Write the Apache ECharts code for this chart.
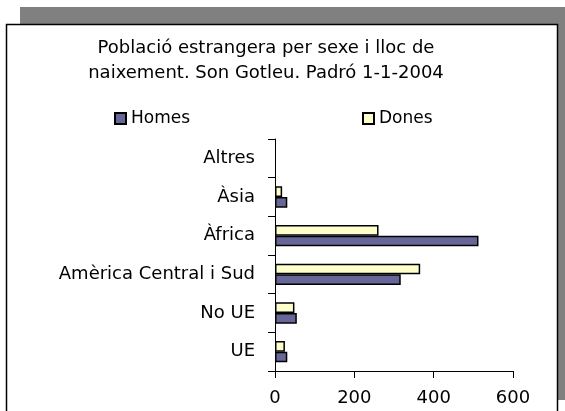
<!DOCTYPE html>
<html>
<head>
<meta charset="utf-8">
<script src="https://cdn.jsdelivr.net/npm/echarts@6/dist/echarts.min.js"></script>
<style>
html, body { margin: 0; padding: 0; background: #fff; }
#chart { width: 565px; height: 411px; }
</style>
</head>
<body>
<div id="chart"></div>
<script>
// categories from bottom to top, like the original
var categories = ['UE', 'No UE', 'Amèrica Central i Sud', 'Àfrica', 'Àsia', 'Altres'];
var homes = [31, 55, 317, 513, 31, 0];
var dones = [25, 49, 366, 261, 18, 0];
var xTicks = [0, 200, 400, 600];

var myChart = echarts.init(document.getElementById('chart'));
var font = 'DejaVu Sans';

// empty bars are not drawn at all (no border on the axis)
function noZero(arr) {
    return arr.map(function (v) { return v === 0 ? '-' : v; });
}

option = {
    animation: false,
    graphic: [
        // shadow
        { type: 'rect', shape: { x: 20, y: 7, width: 560, height: 393 }, style: { fill: '#808080' }, z: -10 },
        // chart area
        { type: 'rect', shape: { x: 6.5, y: 24.5, width: 551, height: 400 }, style: { fill: '#fff', stroke: '#000', lineWidth: 1.5 }, z: -9 }
    ],
    title: {
        text: 'Població estrangera per sexe i lloc de\nnaixement. Son Gotleu. Padró 1-1-2004',
        left: 261,
        textAlign: 'center',
        top: 31,
        textStyle: {
            color: '#000',
            fontFamily: font,
            fontWeight: 'normal',
            fontSize: 18,
            lineHeight: 25
        }
    },
    legend: [{
        data: ['Homes'],
        left: 109,
        top: 105,
        icon: 'rect',
        itemWidth: 11,
        itemHeight: 11,
        itemGap: 5,
        textStyle: { color: '#000', fontFamily: font, fontSize: 17 }
    }, {
        data: ['Dones'],
        left: 357,
        top: 105,
        icon: 'rect',
        itemWidth: 11,
        itemHeight: 11,
        itemGap: 5,
        textStyle: { color: '#000', fontFamily: font, fontSize: 17 }
    }],
    grid: {
        left: 275,
        right: 52,
        top: 139,
        bottom: 40
    },
    xAxis: {
        type: 'value',
        min: xTicks[0],
        max: xTicks[xTicks.length - 1],
        interval: xTicks[1] - xTicks[0],
        splitLine: { show: false },
        axisLine: { show: true, lineStyle: { color: '#000', width: 1 } },
        axisTick: { show: true, length: 7, lineStyle: { color: '#000' } },
        axisLabel: { color: '#000', fontFamily: font, fontSize: 18, margin: 18 }
    },
    yAxis: {
        type: 'category',
        data: categories,
        axisLine: { show: true, lineStyle: { color: '#000', width: 1 } },
        axisTick: { show: true, length: 7, lineStyle: { color: '#000' } },
        axisLabel: { color: '#000', fontFamily: font, fontSize: 18, margin: 20 }
    },
    series: [
        {
            name: 'Dones',
            type: 'bar',
            data: noZero(dones),
            barGap: 0,
            barCategoryGap: '45%',
            itemStyle: { color: '#ffffcc', borderColor: '#000', borderWidth: 1.5 }
        },
        {
            name: 'Homes',
            type: 'bar',
            data: noZero(homes),
            barGap: 0,
            barCategoryGap: '45%',
            itemStyle: { color: '#666699', borderColor: '#000', borderWidth: 1.5 }
        }
    ]
};

myChart.setOption(option);
</script>
</body>
</html>
